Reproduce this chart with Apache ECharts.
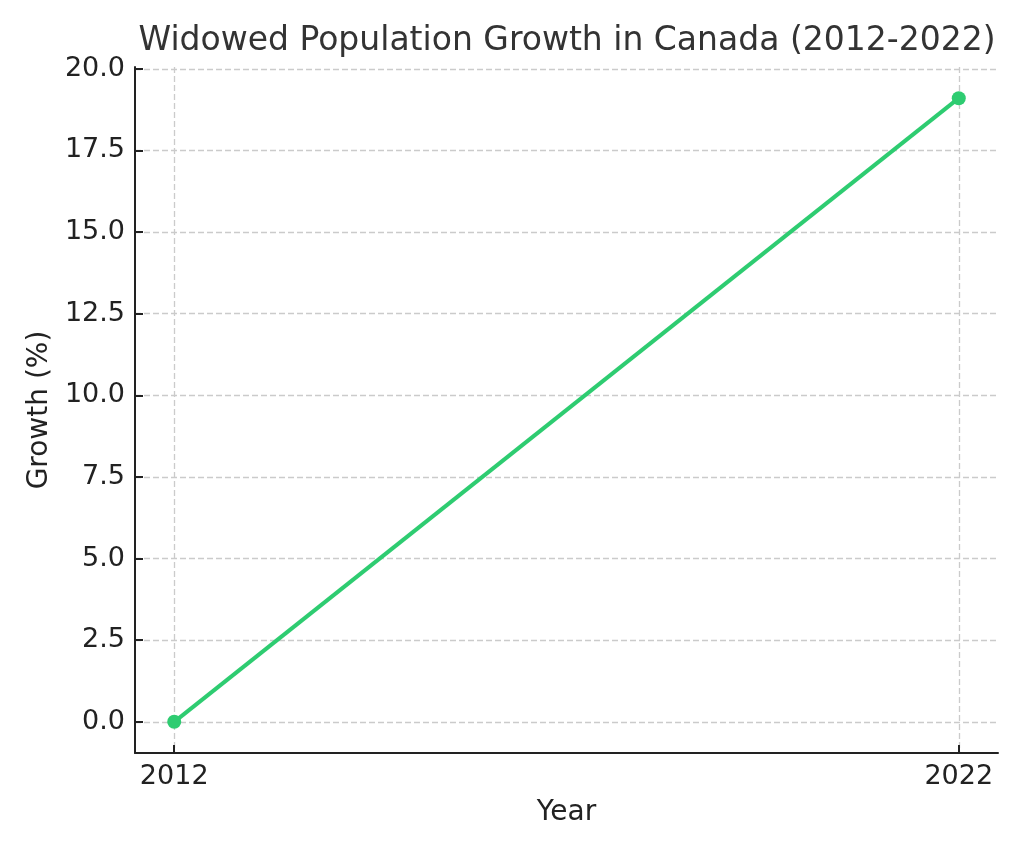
<!DOCTYPE html>
<html>
<head>
<meta charset="utf-8">
<title>Widowed Population Growth in Canada (2012-2022)</title>
<script src="https://cdn.jsdelivr.net/npm/echarts@6/dist/echarts.min.js"></script>
<style>
  html, body { margin: 0; padding: 0; background: #fff; }
  #viz { width: 1024px; height: 853px; }
</style>
</head>
<body>
<div id="viz"></div>
<script>
// data
var years = [2012, 2022];
var growth = [0.0, 19.1];
var yTicks = [0, 2.5, 5, 7.5, 10, 12.5, 15, 17.5, 20];

var FONT = 'DejaVu Sans';
var points = [];
for (var i = 0; i < years.length; i++) {
    points.push([years[i], growth[i]]);
}

var dom = document.getElementById('viz');
var myChart = echarts.init(dom, null, { renderer: 'canvas' });

var gridLine = {
    show: true,
    lineStyle: { color: '#cbcbcb', width: 1.3, type: [6, 3] }
};

option = {
    animation: false,
    backgroundColor: '#fff',
    title: {
        text: 'Widowed Population Growth in Canada (2012-2022)',
        left: 562,
        textAlign: 'center',
        top: 20,
        textStyle: { fontFamily: FONT, fontSize: 33, fontWeight: 'normal', color: '#333' }
    },
    grid: { left: 135, right: 26, top: 67, bottom: 100 },
    xAxis: {
        type: 'value',
        min: 2011.5,
        max: 2022.5,
        name: 'Year',
        nameLocation: 'middle',
        nameGap: 46,
        nameTextStyle: { fontFamily: FONT, fontSize: 28, color: '#222' },
        axisLine: { show: true, onZero: false, lineStyle: { color: '#222', width: 2 } },
        axisTick: { show: true, inside: true, length: 8, customValues: years,
                    lineStyle: { color: '#222', width: 2 } },
        axisLabel: { customValues: years, margin: 10, fontFamily: FONT, fontSize: 27, color: '#222',
                     formatter: function (v) { return String(v); } },
        splitLine: gridLine
    },
    yAxis: {
        type: 'value',
        min: -0.955,
        max: 20.055,
        name: 'Growth (%)',
        nameLocation: 'middle',
        nameGap: 80,
        nameTextStyle: { fontFamily: FONT, fontSize: 28, color: '#222' },
        axisLine: { show: true, onZero: false, lineStyle: { color: '#222', width: 2 } },
        axisTick: { show: true, inside: true, length: 8, customValues: yTicks,
                    lineStyle: { color: '#222', width: 2 } },
        axisLabel: { customValues: yTicks, margin: 10, fontFamily: FONT, fontSize: 27, color: '#222',
                     formatter: function (v) { return v.toFixed(1); } },
        splitLine: gridLine
    },
    series: [{
        name: 'Growth',
        type: 'line',
        data: points,
        symbol: 'circle',
        symbolSize: 14,
        showSymbol: true,
        lineStyle: { color: '#2ecc71', width: 4 },
        itemStyle: { color: '#2ecc71' }
    }]
};

if (option && typeof option === "object") {
    myChart.setOption(option, true);
}
</script>
</body>
</html>
